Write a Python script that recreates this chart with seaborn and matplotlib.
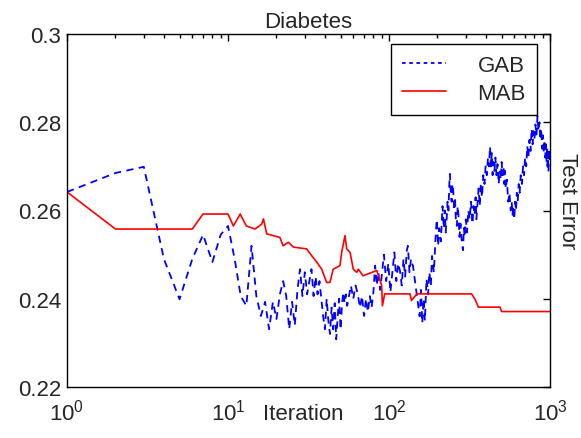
import matplotlib
matplotlib.use("Agg")
import matplotlib.pyplot as plt
import seaborn as sns
from matplotlib.ticker import LogLocator, FixedLocator, FixedFormatter

# MAB test error (red solid line)
mab_iter = [1, 2, 6, 7, 10, 10.8, 11.9, 13, 14.7, 16.2, 16.6, 17.4, 21, 22, 23.7,
            25.5, 30.8, 33, 35.6, 38.2, 41, 43, 45, 49.6, 50.8, 53.3, 54.6, 57.3,
            60, 63, 64.5, 69, 84, 90, 91, 94, 135, 138, 149, 326, 342, 359, 489,
            501, 1000]
mab_err = [0.2642, 0.2558, 0.2558, 0.2592, 0.2592, 0.2565, 0.2592, 0.2565, 0.2558,
           0.2569, 0.2581, 0.2547, 0.2539, 0.2520, 0.2528, 0.2517, 0.2513, 0.2498,
           0.2483, 0.2467, 0.2437, 0.2437, 0.2467, 0.2475, 0.2505, 0.2543, 0.2513,
           0.2505, 0.2467, 0.2460, 0.2467, 0.2452, 0.2464, 0.2430, 0.2384, 0.2411,
           0.2411, 0.2396, 0.2411, 0.2411, 0.2399, 0.2381, 0.2381, 0.2371, 0.2371]

# GAB test error (blue dashed line)
gab_iter = [1, 2, 3, 4, 5, 6, 7, 8, 9, 10,
            11, 12, 13, 14, 15, 16, 17, 18, 19, 20,
            21, 22, 23, 24, 25, 26, 27, 28, 29, 30,
            31, 32, 33, 34, 35, 36, 37, 38, 39, 40,
            41, 42, 43, 44, 45, 46, 47, 48, 49, 50,
            51, 52, 53, 54, 55, 56, 58, 60, 62, 64,
            66, 68, 70, 72, 74, 76, 78, 80, 82, 84,
            86, 88,
            90, 93, 96, 99, 102, 105, 108, 111, 114, 117,
            120, 123, 126, 129, 131, 134, 137, 141, 145, 150,
            155, 158, 161, 164, 167, 171, 175, 178, 182, 185,
            190, 194, 198, 202, 205, 210, 215, 219, 222, 225,
            228, 231, 234, 237, 239, 242, 245, 248, 251, 254,
            257, 260, 264, 267, 270, 274, 278, 283, 288, 292,
            295, 300, 305, 311, 317, 323, 330, 335, 340, 345,
            349, 355, 360, 366, 372, 378, 385, 392, 398, 405,
            412, 418, 424, 430, 435, 440, 446, 452, 458, 465,
            472, 480, 487, 495, 501, 507, 514, 520, 525, 531,
            540, 550, 560, 570, 578, 585, 592, 600, 607, 615,
            622, 630, 639, 648, 658, 670, 680, 690, 700, 712,
            723, 734, 745, 757, 769, 780, 790, 800, 812, 824,
            836, 848, 860, 871, 883, 894, 905, 915, 925, 934,
            943, 952, 960, 965, 970, 978, 985, 992, 1000]
gab_err = [0.2642, 0.2685, 0.2699, 0.2490, 0.2399, 0.2490, 0.2545, 0.2483, 0.2545, 0.2565,
           0.2490, 0.2406, 0.2384, 0.2520, 0.2406, 0.2361, 0.2393, 0.2331, 0.2393, 0.2354,
           0.2410, 0.2440, 0.2406, 0.2331, 0.2393, 0.2340, 0.2420, 0.2467, 0.2406, 0.2460,
           0.2410, 0.2440, 0.2467, 0.2406, 0.2450, 0.2410, 0.2440, 0.2400, 0.2360, 0.2331,
           0.2400, 0.2350, 0.2320, 0.2380, 0.2331, 0.2390, 0.2308, 0.2360, 0.2400, 0.2330,
           0.2384, 0.2415, 0.2390, 0.2410, 0.2384, 0.2400, 0.2430, 0.2400, 0.2430, 0.2410,
           0.2380, 0.2406, 0.2361, 0.2400, 0.2370, 0.2406, 0.2380, 0.2415, 0.2475, 0.2430,
           0.2460, 0.2420,
           0.2450, 0.2500, 0.2440, 0.2480, 0.2415, 0.2460, 0.2505, 0.2440, 0.2480, 0.2463,
           0.2430, 0.2490, 0.2450, 0.2510, 0.2520, 0.2460, 0.2490, 0.2474, 0.2440, 0.2400,
           0.2360, 0.2420, 0.2345, 0.2400, 0.2350, 0.2445, 0.2410, 0.2460, 0.2430, 0.2497,
           0.2460, 0.2530, 0.2580, 0.2520, 0.2560, 0.2530, 0.2610, 0.2560, 0.2600, 0.2550,
           0.2580, 0.2620, 0.2600, 0.2660, 0.2683, 0.2640, 0.2620, 0.2660, 0.2642, 0.2600,
           0.2630, 0.2580, 0.2565, 0.2610, 0.2590, 0.2540, 0.2570, 0.2530, 0.2510, 0.2560,
           0.2540, 0.2580, 0.2550, 0.2600, 0.2580, 0.2620, 0.2570, 0.2610, 0.2590, 0.2630,
           0.2580, 0.2620, 0.2650, 0.2610, 0.2660, 0.2630, 0.2680, 0.2660, 0.2700, 0.2680,
           0.2720, 0.2700, 0.2745, 0.2700, 0.2730, 0.2680, 0.2710, 0.2690, 0.2720, 0.2680,
           0.2705, 0.2660, 0.2690, 0.2670, 0.2710, 0.2680, 0.2700, 0.2660, 0.2690, 0.2650,
           0.2670, 0.2620, 0.2640, 0.2600, 0.2620, 0.2590, 0.2610, 0.2580, 0.2620, 0.2600,
           0.2640, 0.2620, 0.2660, 0.2640, 0.2680, 0.2660, 0.2700, 0.2680, 0.2720, 0.2700,
           0.2746, 0.2720, 0.2760, 0.2735, 0.2785, 0.2750, 0.2780, 0.2760, 0.2795, 0.2770,
           0.2814, 0.2780, 0.2800, 0.2760, 0.2785, 0.2740, 0.2770, 0.2730, 0.2760, 0.2720,
           0.2750, 0.2710, 0.2745, 0.2700, 0.2730, 0.2687, 0.2740, 0.2710, 0.2740]

y_ticks = [0.22, 0.24, 0.26, 0.28, 0.3]
y_ticklabels = ["0.22", "0.24", "0.26", "0.28", "0.3"]

sns.set_style("white")
plt.rcParams["font.family"] = ["Liberation Sans", "DejaVu Sans"]
plt.rcParams["mathtext.fontset"] = "custom"
plt.rcParams["mathtext.rm"] = "Liberation Sans"
plt.rcParams["mathtext.it"] = "Liberation Sans"
fs = 16

fig = plt.figure(figsize=(5.81, 4.39), dpi=100)
ax = fig.add_axes([67 / 581, 51 / 439, 483 / 581, 353 / 439])

sns.lineplot(x=gab_iter, y=gab_err, ax=ax, color="#0000ff", lw=1.3,
             label="GAB")
sns.lineplot(x=mab_iter, y=mab_err, ax=ax, color="#ff0000", lw=1.2,
             label="MAB")
ax.lines[0].set_dashes((4, 3))

ax.set_xscale("log")
ax.set_xlim(1, 1000)
ax.set_ylim(0.22, 0.3)
ax.yaxis.set_major_locator(FixedLocator(y_ticks))
ax.yaxis.set_major_formatter(FixedFormatter(y_ticklabels))
ax.xaxis.set_major_locator(LogLocator(base=10, numticks=10))
ax.xaxis.set_minor_locator(LogLocator(base=10, subs=range(2, 10), numticks=20))

ax.tick_params(which="both", direction="in", top=True, right=True,
               labelsize=fs, color="black", width=1)
ax.tick_params(which="major", length=5)
ax.tick_params(which="minor", length=3)
ax.tick_params(axis="x", which="major", pad=8)
ax.tick_params(axis="y", which="major", pad=4)
for s in ax.spines.values():
    s.set_color("black")
    s.set_linewidth(1)

ax.set_title("Diabetes", fontsize=fs, pad=5)
ax.set_xlabel("Iteration", fontsize=fs, va="center")
ax.xaxis.set_label_coords(0.49, -0.075)
ax.set_ylabel("")
ax.text(1.037, 0.53, "Test Error", rotation=-90, transform=ax.transAxes,
        ha="center", va="center", fontsize=fs)

leg = ax.legend(loc="upper right", bbox_to_anchor=(0.973, 0.972),
                borderaxespad=0, fontsize=fs, fancybox=False, framealpha=1,
                edgecolor="black", handlelength=2.0, handletextpad=1.4,
                borderpad=0.5, labelspacing=0.3)
leg.get_frame().set_linewidth(1)
leg.get_lines()[0].set_dashes((2, 2))

plt.savefig("out.png", dpi=100)
plt.close()
